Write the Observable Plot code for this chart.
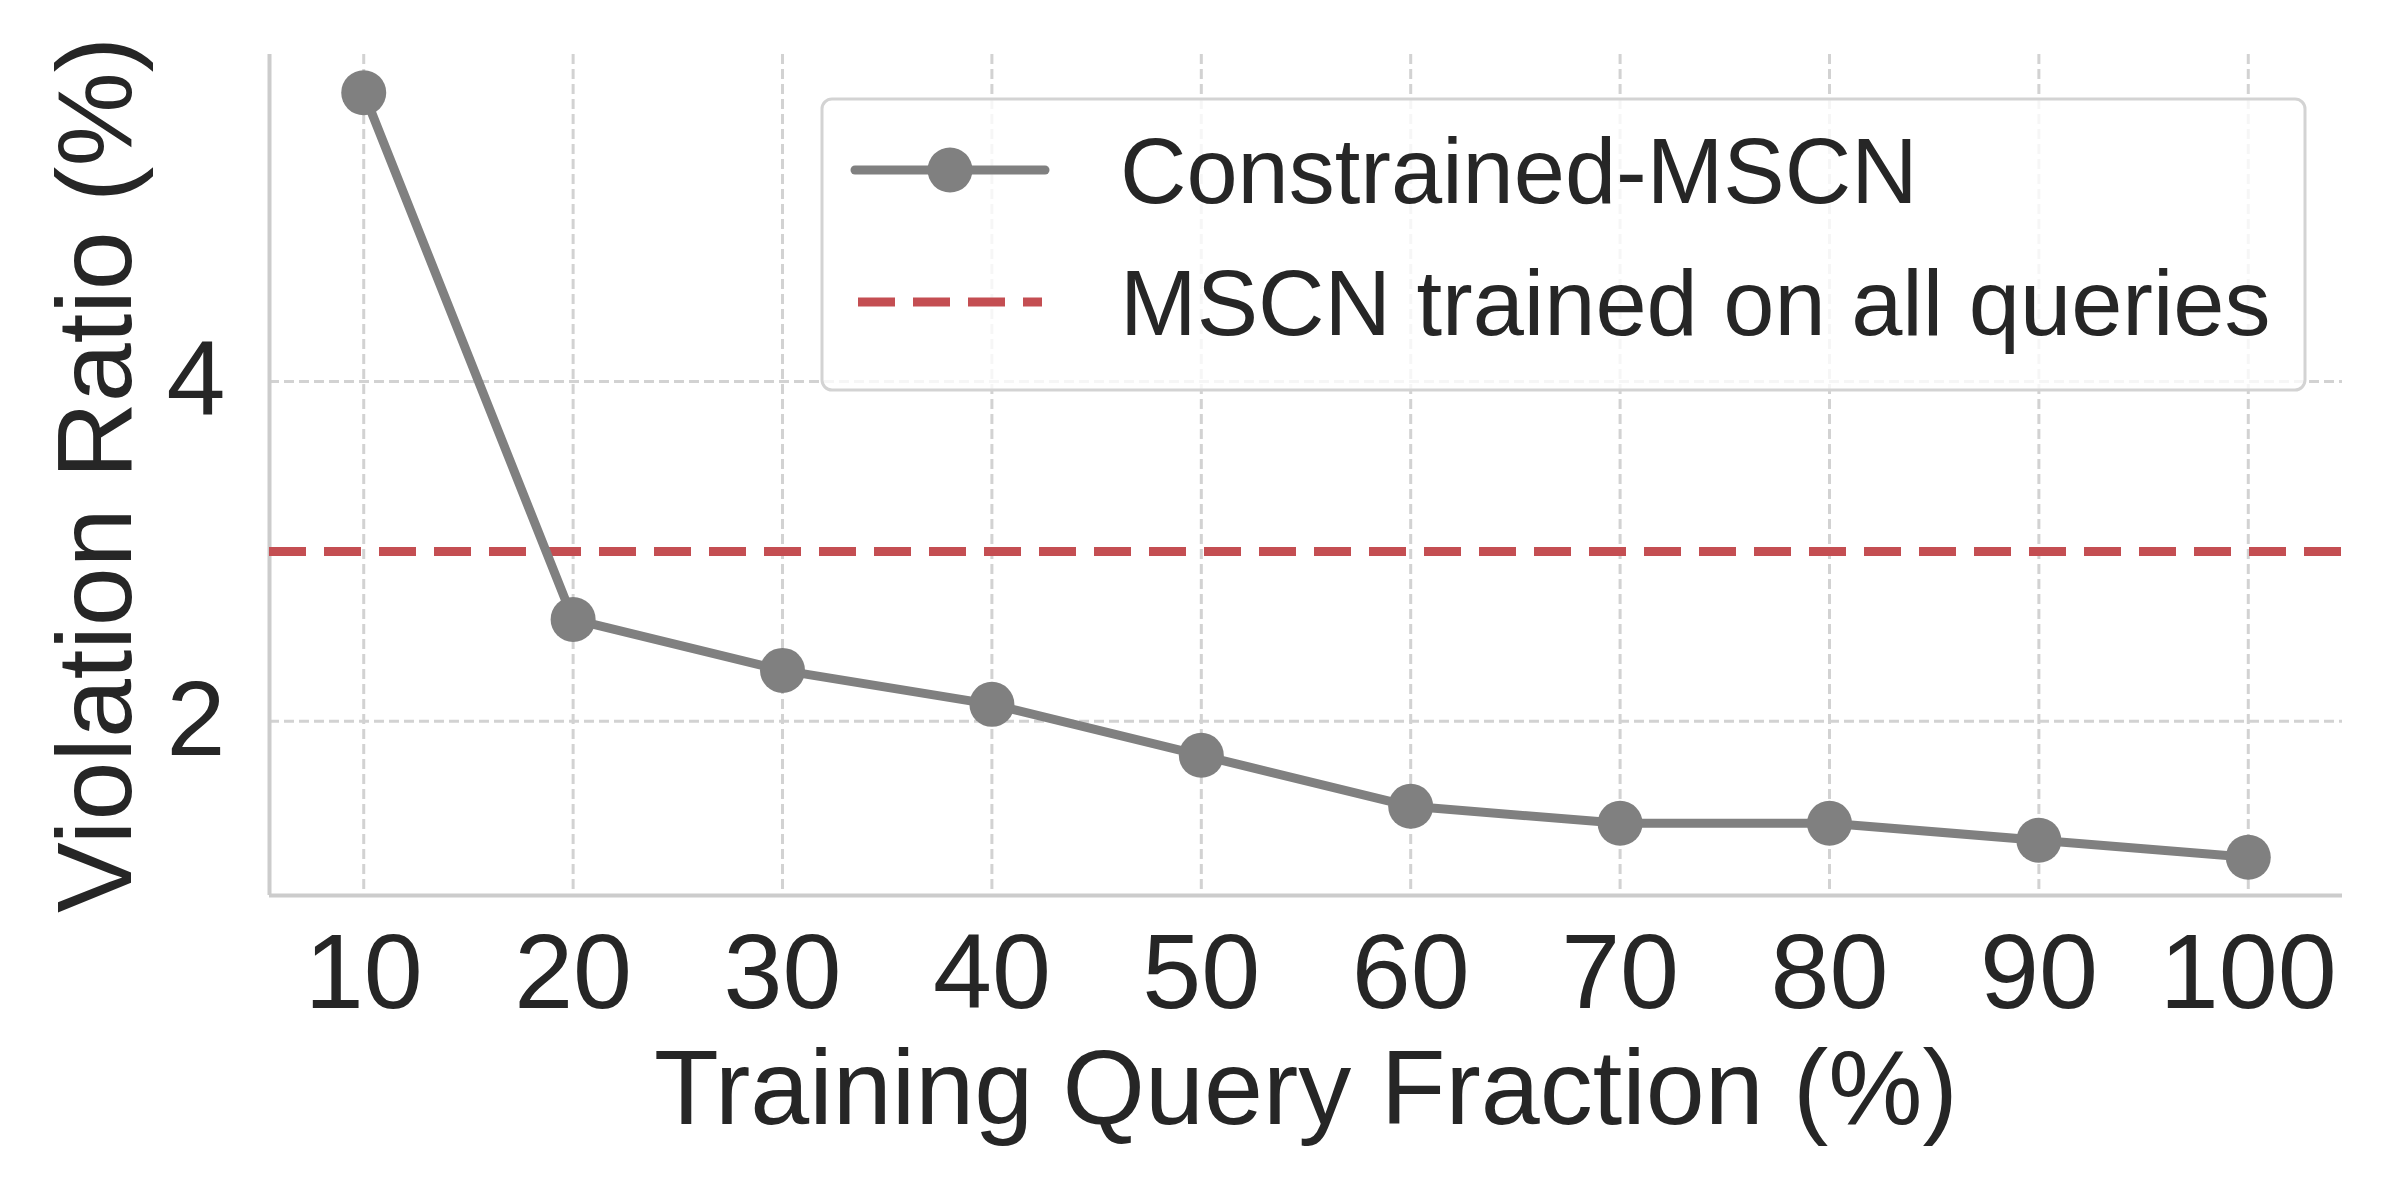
<!DOCTYPE html>
<html>
<head>
<meta charset="utf-8">
<script src="https://cdn.jsdelivr.net/npm/d3@7"></script>
<script src="https://cdn.jsdelivr.net/npm/@observablehq/plot@0.6"></script>
<style>
  html, body { margin: 0; padding: 0; background: #ffffff; }
  #wrap { position: relative; width: 2400px; height: 1200px; font-family: "Liberation Sans", Arial, sans-serif; }
  #wrap svg { display: block; }
  #legend { position: absolute; left: 0; top: 0; pointer-events: none; }
</style>
</head>
<body>
<div id="wrap"></div>
<script>
// ---- data ----
const fractions = [10, 20, 30, 40, 50, 60, 70, 80, 90, 100];
const violation = [5.7, 2.6, 2.3, 2.1, 1.8, 1.5, 1.4, 1.4, 1.3, 1.2];
const baselineMSCN = 3.0;
const xTicks = [10, 20, 30, 40, 50, 60, 70, 80, 90, 100];
const yTicks = [2, 4];
const seriesNames = ["Constrained-MSCN", "MSCN trained on all queries"];
const xLabel = "Training Query Fraction (%)";
const yLabel = "Violation Ratio (%)";

const points = fractions.map((f, i) => ({fraction: f, ratio: violation[i]}));

// matplotlib-style 5% margins
const xMin = d3.min(fractions), xMax = d3.max(fractions);
const yMin = d3.min(violation), yMax = d3.max(violation);
const xPad = (xMax - xMin) * 0.05, yPad = (yMax - yMin) * 0.05;
const xDomain = [xMin - xPad, xMax + xPad];
const yDomain = [yMin - yPad, yMax + yPad];

const textColor = "#262626";
const gridColor = "#d2d2d2";
const spineColor = "#cccccc";
const lineGray = "#808080";
const red = "#c44e52";
const font = "'Liberation Sans', Arial, sans-serif";

const chart = Plot.plot({
  width: 2400,
  height: 1200,
  marginTop: 54,
  marginBottom: 305,
  marginLeft: 269,
  marginRight: 58,
  style: {fontFamily: font, color: textColor, background: "#ffffff", overflow: "visible"},
  x: {domain: xDomain, axis: null},
  y: {domain: yDomain, axis: null},
  marks: [
    Plot.gridX(xTicks, {stroke: gridColor, strokeOpacity: 1, strokeWidth: 3, strokeDasharray: "10,5"}),
    Plot.gridY(yTicks, {stroke: gridColor, strokeOpacity: 1, strokeWidth: 3, strokeDasharray: "10,5"}),
    Plot.ruleX([xDomain[0]], {stroke: spineColor, strokeWidth: 4}),
    Plot.ruleY([yDomain[0]], {stroke: spineColor, strokeWidth: 4}),
    Plot.ruleY([baselineMSCN], {stroke: red, strokeWidth: 9, strokeDasharray: "37,18"}),
    Plot.line(points, {x: "fraction", y: "ratio", stroke: lineGray, strokeWidth: 9}),
    Plot.dot(points, {x: "fraction", y: "ratio", r: 22.5, fill: lineGray, stroke: "none"}),
    Plot.axisX(xTicks, {tickSize: 0, tickPadding: 37, fontSize: 106, fill: textColor, label: null, tickFormat: d => String(d)}),
    Plot.axisY(yTicks, {tickSize: 0, tickPadding: 44, fontSize: 106, fill: textColor, label: null, tickFormat: d => String(d)}),
    Plot.text([xLabel], {frameAnchor: "bottom", dy: 153, lineAnchor: "top", textAnchor: "middle", fontSize: 106, fill: textColor}),
    Plot.text([yLabel], {frameAnchor: "left", dx: -139, rotate: -90, lineAnchor: "bottom", textAnchor: "middle", fontSize: 106, fill: textColor})
  ]
});

const wrap = document.getElementById("wrap");
wrap.appendChild(chart);

// ---- legend overlay ----
const ns = "http://www.w3.org/2000/svg";
const lg = d3.select(wrap).append("svg")
  .attr("id", "legend")
  .attr("width", 2400).attr("height", 1200)
  .attr("xmlns", ns);

const box = {x: 822, y: 99, w: 1483, h: 291};
lg.append("rect")
  .attr("x", box.x).attr("y", box.y).attr("width", box.w).attr("height", box.h)
  .attr("rx", 10).attr("ry", 10)
  .attr("fill", "rgba(255,255,255,0.8)")
  .attr("stroke", "#d3d3d3").attr("stroke-width", 3);

const rows = [170, 302];
// entry 1: line + marker
lg.append("line").attr("x1", 855).attr("x2", 1045).attr("y1", rows[0]).attr("y2", rows[0])
  .attr("stroke", lineGray).attr("stroke-width", 9).attr("stroke-linecap", "round");
lg.append("circle").attr("cx", 950).attr("cy", rows[0]).attr("r", 22.5).attr("fill", lineGray);
// entry 2: dashed red
lg.append("line").attr("x1", 858).attr("x2", 1042).attr("y1", rows[1]).attr("y2", rows[1])
  .attr("stroke", red).attr("stroke-width", 9).attr("stroke-dasharray", "37,18");

seriesNames.forEach((name, i) => {
  lg.append("text")
    .attr("x", 1120).attr("y", rows[i] + 33)
    .attr("font-family", font).attr("font-size", 92)
    .attr("fill", textColor)
    .text(name);
});
</script>
</body>
</html>
